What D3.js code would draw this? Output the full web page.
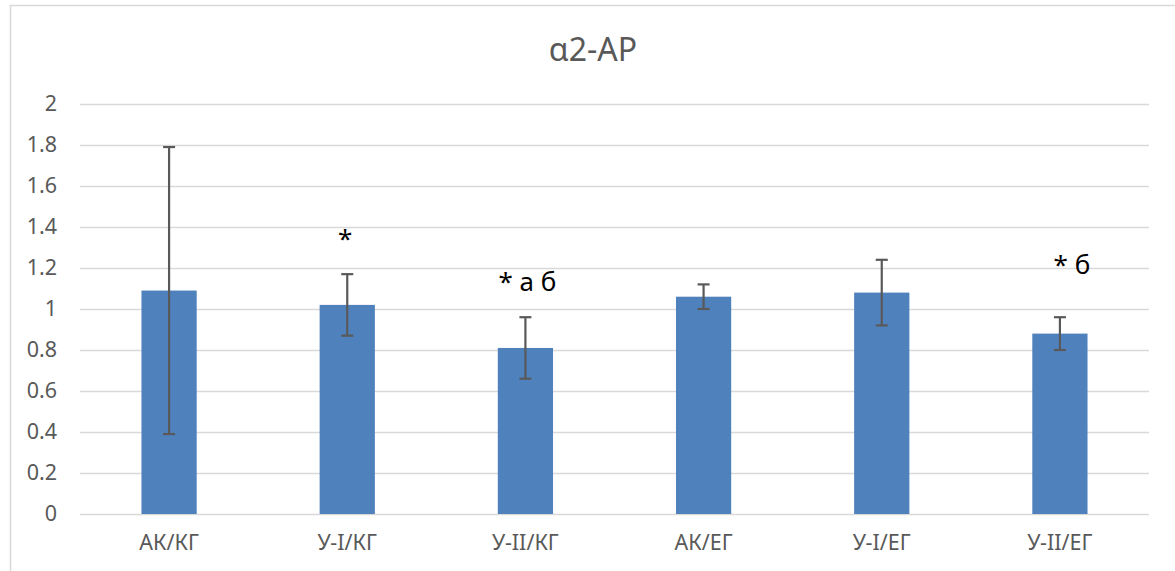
<!DOCTYPE html>
<html>
<head>
<meta charset="utf-8">
<script src="https://cdn.jsdelivr.net/npm/d3@7"></script>
<style>
  html, body { margin: 0; padding: 0; background: #fff; }
  svg { display: block; }
  text { font-family: "Noto Sans", "Open Sans", sans-serif; }
</style>
</head>
<body>
<svg id="chart" width="1175" height="571"></svg>
<script>
// α2-АР by group: mean with error range, plus significance marks
const categories = ["АК/КГ", "У-I/КГ", "У-II/КГ", "АК/ЕГ", "У-I/ЕГ", "У-II/ЕГ"];
const values     = [1.09, 1.02, 0.81, 1.06, 1.08, 0.88];
const errors     = [0.70, 0.15, 0.15, 0.06, 0.16, 0.08];
const marks      = ["", "*", "* а б", "", "", "* б"];
const markLevels = [0, 1.30, 1.09, 0, 0, 1.17];
const yTicks     = [0, 0.2, 0.4, 0.6, 0.8, 1, 1.2, 1.4, 1.6, 1.8, 2];
const title      = "α2-АР";

const W = 1175, H = 571;
const margin = { left: 80, right: 26, top: 104, bottom: 57 };
const svg = d3.select("#chart");

// Outer chart frame (top and left edges visible)
svg.append("path")
  .attr("d", `M10.5,${H} V5.5 H${W}`)
  .attr("fill", "none")
  .attr("stroke", "#d9d9d9")
  .attr("stroke-width", 1.5);

const x = d3.scaleBand()
  .domain(categories)
  .range([margin.left, W - margin.right])
  .paddingInner(0.69)
  .paddingOuter(0.345);

const y = d3.scaleLinear()
  .domain([0, 2])
  .range([H - margin.bottom, margin.top]);

// Gridlines
svg.append("g")
  .selectAll("line")
  .data(yTicks)
  .join("line")
  .attr("x1", margin.left)
  .attr("x2", W - margin.right)
  .attr("y1", d => Math.round(y(d)) + 0.5)
  .attr("y2", d => Math.round(y(d)) + 0.5)
  .attr("stroke", "#d9d9d9")
  .attr("stroke-width", 1.5);

// Y axis labels
const yAxis = d3.axisLeft(y)
  .tickValues(yTicks)
  .tickFormat(d => String(d))
  .tickSize(0)
  .tickPadding(23);
const gy = svg.append("g")
  .attr("transform", `translate(${margin.left},0)`)
  .call(yAxis);
gy.select(".domain").remove();
gy.selectAll("text")
  .attr("fill", "#595959")
  .style("font-size", "21.5px");

// Bars
svg.append("g")
  .selectAll("rect")
  .data(categories)
  .join("rect")
  .attr("x", d => x(d))
  .attr("width", x.bandwidth())
  .attr("y", (d, i) => y(values[i]))
  .attr("height", (d, i) => y(0) - y(values[i]))
  .attr("fill", "#4f81bd");

// Error bars
const eb = svg.append("g")
  .attr("stroke", "#595959")
  .attr("stroke-width", 2.2);
categories.forEach((c, i) => {
  const cx = x(c) + x.bandwidth() / 2;
  const lo = y(values[i] - errors[i]);
  const hi = y(values[i] + errors[i]);
  eb.append("line").attr("x1", cx).attr("x2", cx).attr("y1", lo).attr("y2", hi);
  eb.append("line").attr("x1", cx - 6).attr("x2", cx + 6).attr("y1", hi).attr("y2", hi);
  eb.append("line").attr("x1", cx - 6).attr("x2", cx + 6).attr("y1", lo).attr("y2", lo);
});

// X axis labels
const xAxis = d3.axisBottom(x).tickSize(0).tickPadding(21);
const gx = svg.append("g")
  .attr("transform", `translate(0,${y(0)})`)
  .call(xAxis);
gx.select(".domain").remove();
gx.selectAll("text")
  .attr("fill", "#595959")
  .style("font-size", "21.5px");

// Significance marks (text boxes sit slightly off the bar centre)
const markNudge = { "У-I/КГ": -2, "У-II/КГ": 2, "У-II/ЕГ": 12 };
svg.append("g")
  .selectAll("text")
  .data(categories)
  .join("text")
  .attr("x", d => x(d) + x.bandwidth() / 2 + (markNudge[d] || 0))
  .attr("y", (d, i) => y(markLevels[i]))
  .attr("text-anchor", "middle")
  .attr("fill", "#000")
  .style("font-size", "26px")
  .text((d, i) => marks[i]);

// Title
svg.append("text")
  .attr("x", 593)
  .attr("y", 61)
  .attr("text-anchor", "middle")
  .attr("fill", "#595959")
  .style("font-size", "32px")
  .text(title);
</script>
</body>
</html>
